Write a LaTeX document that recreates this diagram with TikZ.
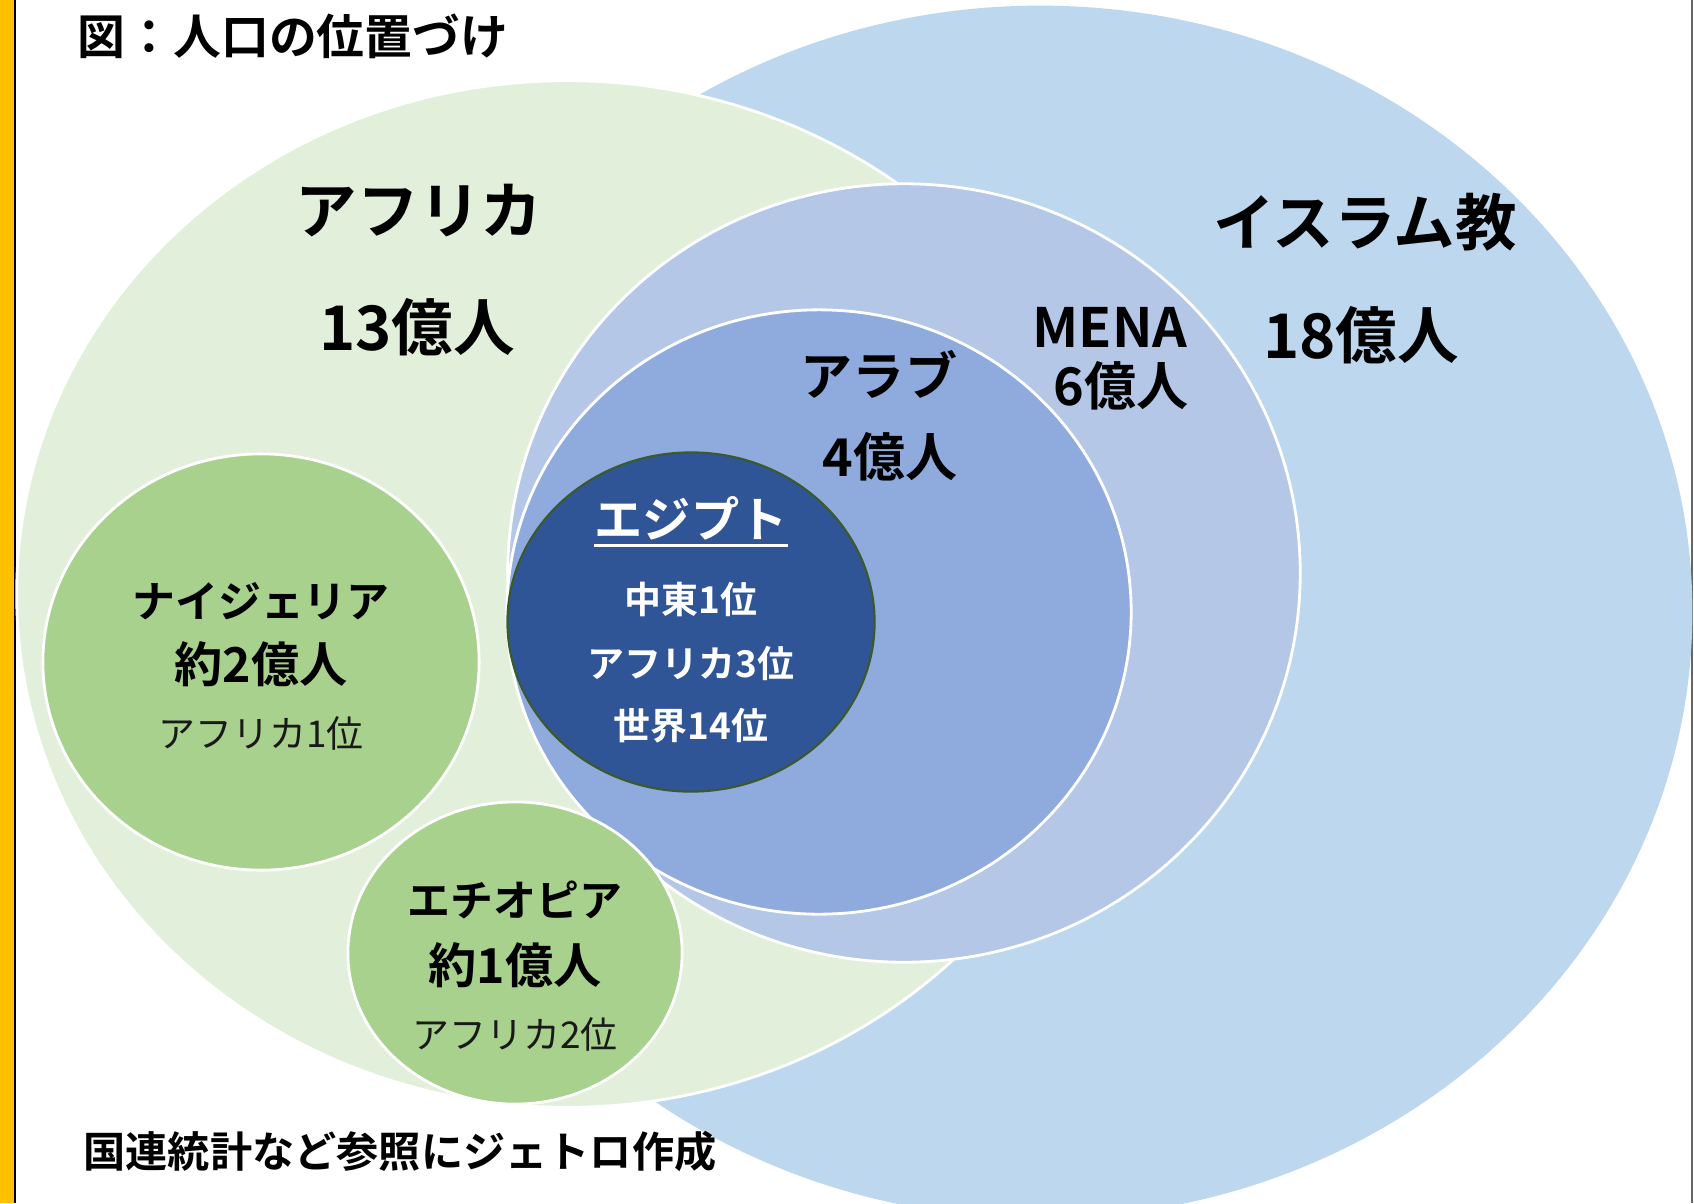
\documentclass[tikz,border=0pt]{standalone}
\usepackage{fontspec}
\setmainfont{Noto Sans CJK JP}[BoldFont={Noto Sans CJK JP Bold}]
\usepackage{tikz}
\usetikzlibrary{shapes.geometric}

\definecolor{baryellow}{HTML}{FFC000}
\definecolor{islamblue}{HTML}{BDD7EE}
\definecolor{africagreen}{HTML}{E2EFDA}
\definecolor{menablue}{HTML}{B4C7E7}
\definecolor{arabblue}{HTML}{8FAADC}
\definecolor{egyptblue}{HTML}{2F5597}
\definecolor{egyptedge}{HTML}{3A5A2A}
\definecolor{landgreen}{HTML}{A9D18E}

\newcommand{\fsz}[1]{\fontsize{#1}{#1}\selectfont}

\tikzset{
  blob/.style={ellipse, inner sep=0pt, draw=white, line width=0.8pt},
  txt/.style={inner sep=0pt, font=\bfseries},
  bigtxt/.style={txt, font=\bfseries\fsz{17.5pt}},
  midtxt/.style={txt, font=\bfseries\fsz{14.8pt}},
  cntry/.style={txt, font=\bfseries\fsz{12.2pt}},
  popu/.style={txt, font=\bfseries\fsz{13.7pt}},
  rank/.style={inner sep=0pt, font=\fsz{10.5pt}, text=black!90}
}

\begin{document}
\begin{tikzpicture}[x=0.01cm, y=-0.01cm]

    % page and frame
    \useasboundingbox (0,0) rectangle (1694,1203);
    \clip (0,0) rectangle (1694,1203);
    \fill[white] (0,0) rectangle (1694,1203);
    \fill[baryellow] (0,0) rectangle (14,1203);
    \draw[black, line width=0.5pt] (15,0) -- (15,1203);
    \draw[black!60, line width=0.5pt] (1692,0) -- (1692,1203);

    % big sets
    \node[blob, draw=none, fill=islamblue, minimum width=13.04cm, minimum height=12.12cm] (islam) at (1040,612) {};
    \node[blob, fill=africagreen, minimum width=11.0cm, minimum height=10.26cm] (africa) at (567,594) {};

    % middle east sets
    \node[blob, fill=menablue, minimum width=7.92cm, minimum height=7.78cm] (mena) at (904,573) {};
    \node[blob, fill=arabblue, minimum width=6.24cm, minimum height=6.04cm] (arab) at (819,612) {};
    \node[blob, fill=egyptblue, draw=egyptedge, line width=0.6pt, minimum width=3.67cm, minimum height=3.39cm] (egypt) at (691,622) {};

    % countries in africa
    \node[blob, fill=landgreen, minimum width=4.36cm, minimum height=4.16cm] (nigeria) at (261,662) {};
    \node[blob, fill=landgreen, minimum width=3.34cm, minimum height=3.02cm] (ethiopia) at (515,953) {};

    % texts
    \node[txt, font=\bfseries\fsz{13.6pt}] (title) at (293,36) {図：人口の位置づけ};
    \node[bigtxt] (afrname) at (419,211) {アフリカ};
    \node[bigtxt] (afrpop) at (417,327) {13億人};
    \node[bigtxt] (islname) at (1365,222) {イスラム教};
    \node[bigtxt] (islpop) at (1361,335) {18億人};
    \node[midtxt, font=\bfseries\fsz{15.4pt}] (menaname) at (1110,327) {MENA};
    \node[midtxt] (menapop) at (1121,386) {6億人};
    \node[midtxt] (arabname) at (879,374) {アラブ};
    \node[midtxt] (arabpop) at (890,457) {4億人};

    \node[txt, text=white, font=\bfseries\fsz{13.7pt}] (egname) at (691,518) {エジプト};
    \draw[white, line width=0.9pt] ([yshift=-1.5pt]egname.south west) -- ([yshift=-1.5pt]egname.south east);
    \node[txt, text=white, font=\bfseries\fsz{10.5pt}] (eg1) at (691,599) {中東1位};
    \node[txt, text=white, font=\bfseries\fsz{10.5pt}] (eg2) at (691,663) {アフリカ3位};
    \node[txt, text=white, font=\bfseries\fsz{10.5pt}] (eg3) at (691,726) {世界14位};

    \node[cntry] (ngname) at (261,601) {ナイジェリア};
    \node[popu] (ngpop) at (261,664) {約2億人};
    \node[rank] (ngrank) at (261,733) {アフリカ1位};

    \node[cntry] (etname) at (515,900) {エチオピア};
    \node[popu] (etpop) at (515,965) {約1億人};
    \node[rank] (etrank) at (515,1034) {アフリカ2位};

    \node[txt, font=\bfseries\fsz{12pt}] (source) at (400,1152) {国連統計など参照にジェトロ作成};

\end{tikzpicture}
\end{document}
